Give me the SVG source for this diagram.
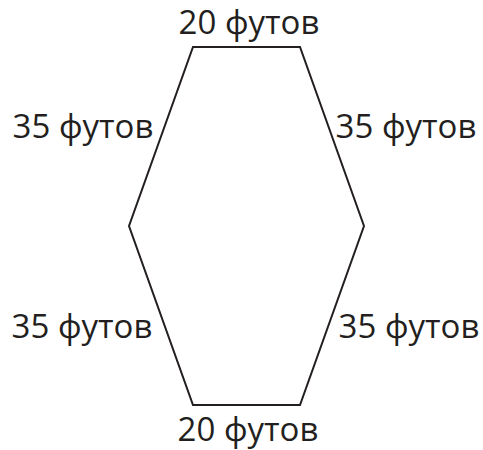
<svg xmlns="http://www.w3.org/2000/svg" width="483" height="450" viewBox="0 0 483 450">
<style>
text{font-family:"Open Sans","Noto Sans",sans-serif;font-size:33px;fill:#231f20}
.s{fill:none;stroke:#231f20;stroke-width:2}
</style>
<rect width="483" height="450" fill="#fff"/>
<g id="hexagon"><polygon class="s" points="193,47 300,47 364,226 300,405 193,405 129,226"/></g>
<g id="labels">
<text x="249" y="34" text-anchor="middle">20 футов</text>
<text x="83" y="138" text-anchor="middle">35 футов</text>
<text x="406" y="138" text-anchor="middle">35 футов</text>
<text x="82" y="338" text-anchor="middle">35 футов</text>
<text x="409" y="338" text-anchor="middle">35 футов</text>
<text x="248" y="441" text-anchor="middle">20 футов</text>
</g>
</svg>
